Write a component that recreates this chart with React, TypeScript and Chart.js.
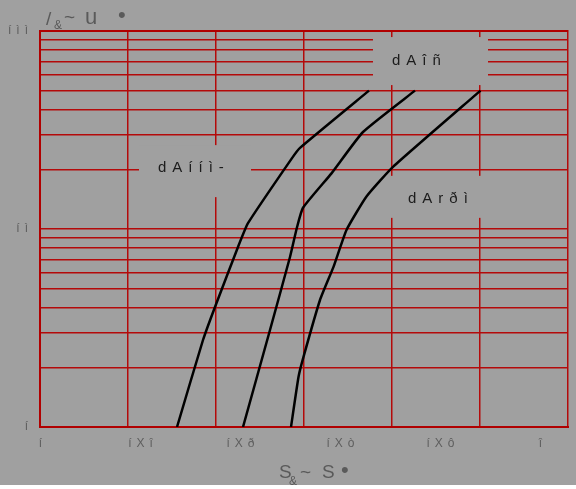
import { useEffect, useRef } from "react";
import { Chart, registerables } from "chart.js";

Chart.register(...registerables);

// ---- data ----
const xTickValues = [1, 1.2, 1.4, 1.6, 1.8, 2];
const xTickLabels = ["í", "íXî", "íXð", "íXò", "íXô", "î"];
const yTickValues = [1, 10, 100];
const yTickLabels = ["í", "íì", "íìì"];
const yGridValues = [1, 2, 3, 4, 5, 6, 7, 8, 9, 10, 20, 30, 40, 50, 60, 70, 80, 90, 100];

const seriesNames = ["dAííì-", "dAîñ", "dArðì"];

const curveAX = [1.268, 1.32, 1.344, 1.39, 1.41, 1.498, 1.514, 1.652];
const curveAY = [1, 2.75, 4.04, 8.11, 10.7, 22.8, 25.7, 50];

const curveBX = [1.4, 1.454, 1.494, 1.508, 1.52, 1.577, 1.64, 1.744];
const curveBY = [1, 3.09, 7.22, 10.2, 12.8, 19.1, 30.9, 50];

const curveCX = [1.496, 1.511, 1.521, 1.554, 1.581, 1.607, 1.647, 1.7, 1.875];
const curveCY = [1, 1.79, 2.26, 4.38, 6.44, 9.89, 14.6, 20.6, 50];

// label anchors (data coordinates)
const labelX = [1.23, 1.698, 1.73];
const labelY = [20.3, 70.5, 14.2];

// ---- styles ----
const BG = "#a0a0a0";
const RED = "#b40a0a";
const BORDER_RED = "#b00000";
const TICK_COLOR = "#5e5e5e";
const TITLE_COLOR = "#5a5a5a";
const FONT = "'Liberation Sans', Arial, sans-serif";
// box extents relative to label anchor: [left, right, top, bottom]
const boxPads = [
  [-19, 93, -23, 29],
  [-19, 96, -24, 24],
  [-19, 92, -23, 19],
];

const toPoints = (xs: number[], ys: number[]) => xs.map((x, i) => ({ x, y: ys[i] }));

const bgPlugin = {
  id: "bgPlugin",
  beforeDraw(chart: any) {
    const ctx = chart.ctx;
    ctx.save();
    ctx.fillStyle = BG;
    ctx.fillRect(0, 0, chart.width, chart.height);
    ctx.restore();
    ctx.letterSpacing = "5px";
  },
  beforeDatasetsDraw(chart: any) {
    const ctx = chart.ctx;
    const xs = chart.scales.x;
    const ys = chart.scales.y;
    ctx.save();
    for (let i = 0; i < seriesNames.length; i++) {
      const px = xs.getPixelForValue(labelX[i]);
      const py = ys.getPixelForValue(labelY[i]);
      const b = boxPads[i];
      ctx.fillStyle = BG;
      ctx.fillRect(px + b[0], py + b[2], b[1] - b[0], b[3] - b[2]);
      ctx.letterSpacing = "6px";
      ctx.fillStyle = "#1c1c1c";
      ctx.font = `15px ${FONT}`;
      ctx.textAlign = "left";
      ctx.textBaseline = "middle";
      ctx.fillText(seriesNames[i], px, py);
    }
    ctx.restore();
  },
  afterDraw(chart: any) {
    const ctx = chart.ctx;
    ctx.save();
    ctx.letterSpacing = "0px";
    ctx.fillStyle = TITLE_COLOR;
    ctx.textAlign = "left";
    ctx.textBaseline = "alphabetic";
    // y-axis title (top-left)
    ctx.font = `19px ${FONT}`;
    ctx.fillText("/", 46, 25);
    ctx.font = `12px ${FONT}`;
    ctx.fillText("&", 54, 29);
    ctx.font = `19px ${FONT}`;
    ctx.fillText("~", 64, 23);
    ctx.font = `22px ${FONT}`;
    ctx.fillText("u", 85, 24);
    ctx.font = `22px ${FONT}`;
    ctx.fillText("•", 118, 22);
    // x-axis title (bottom)
    ctx.font = `19px ${FONT}`;
    ctx.fillText("S", 279, 478);
    ctx.font = `12px ${FONT}`;
    ctx.fillText("&", 289, 485);
    ctx.font = `19px ${FONT}`;
    ctx.fillText("~", 300, 478);
    ctx.fillText("S", 322, 478);
    ctx.font = `22px ${FONT}`;
    ctx.fillText("•", 341, 477);
    ctx.restore();
  },
};

export default function App() {
  const ref = useRef<HTMLCanvasElement | null>(null);

  useEffect(() => {
    document.body.style.margin = "0";
    if (!ref.current) return;
    const lineDs = (data: any) => ({
      data,
      borderColor: "#000000",
      borderWidth: 2.5,
      pointRadius: 0,
      tension: 0.15,
      fill: false,
      xAxisID: "x",
      yAxisID: "y",
    });
    const chart = new Chart(ref.current, {
      type: "line",
      data: {
        datasets: [
          { label: seriesNames[0], ...lineDs(toPoints(curveAX, curveAY)) },
          { label: seriesNames[1], ...lineDs(toPoints(curveBX, curveBY)) },
          { label: seriesNames[2], ...lineDs(toPoints(curveCX, curveCY)) },
        ],
      },
      options: {
        animation: false,
        responsive: false,
        devicePixelRatio: 1,
        layout: { padding: { top: 31, right: 8, left: 0, bottom: 0 } },
        plugins: { legend: { display: false }, tooltip: { enabled: false } },
        scales: {
          x: {
            type: "linear",
            position: "bottom",
            min: 0.994,
            max: 2.05,
            afterBuildTicks: (s: any) => {
              s.ticks = xTickValues.map((v) => ({ value: v }));
            },
            afterFit: (s: any) => {
              s.height = 58;
            },
            grid: { display: false, drawTicks: false },
            border: { display: true, color: BORDER_RED, width: 2 },
            ticks: {
              autoSkip: false,
              maxRotation: 0,
              padding: 9,
              color: TICK_COLOR,
              font: { size: 12, family: FONT },
              callback: (v: any) => {
                const i = xTickValues.findIndex((t) => Math.abs(t - Number(v)) < 1e-6);
                return i >= 0 ? xTickLabels[i] : "";
              },
            },
          },
          x2: {
            type: "linear",
            position: "top",
            min: 0,
            max: 6,
            afterFit: (s: any) => {
              s.height = 0;
            },
            grid: { color: RED, lineWidth: 1.5, drawTicks: false },
            border: { display: true, color: BORDER_RED, width: 2 },
            ticks: { display: false, stepSize: 1 },
          },
          y: {
            type: "logarithmic",
            position: "left",
            min: 1,
            max: 100,
            afterBuildTicks: (s: any) => {
              s.ticks = yGridValues.map((v) => ({ value: v }));
            },
            afterFit: (s: any) => {
              s.width = 40;
            },
            grid: { color: RED, lineWidth: 1.5, drawTicks: false },
            border: { display: true, color: BORDER_RED, width: 2 },
            ticks: {
              autoSkip: false,
              padding: 7,
              color: TICK_COLOR,
              font: { size: 12, family: FONT },
              callback: (v: any) => {
                const i = yTickValues.findIndex((t) => Math.abs(t - Number(v)) < 1e-6);
                return i >= 0 ? yTickLabels[i] : "";
              },
            },
          },
        },
      },
      plugins: [bgPlugin],
    } as any);
    return () => chart.destroy();
  }, []);

  return (
    <div style={{ width: 576, height: 485 }}>
      <canvas ref={ref} width={576} height={485} style={{ display: "block" }} />
    </div>
  );
}
